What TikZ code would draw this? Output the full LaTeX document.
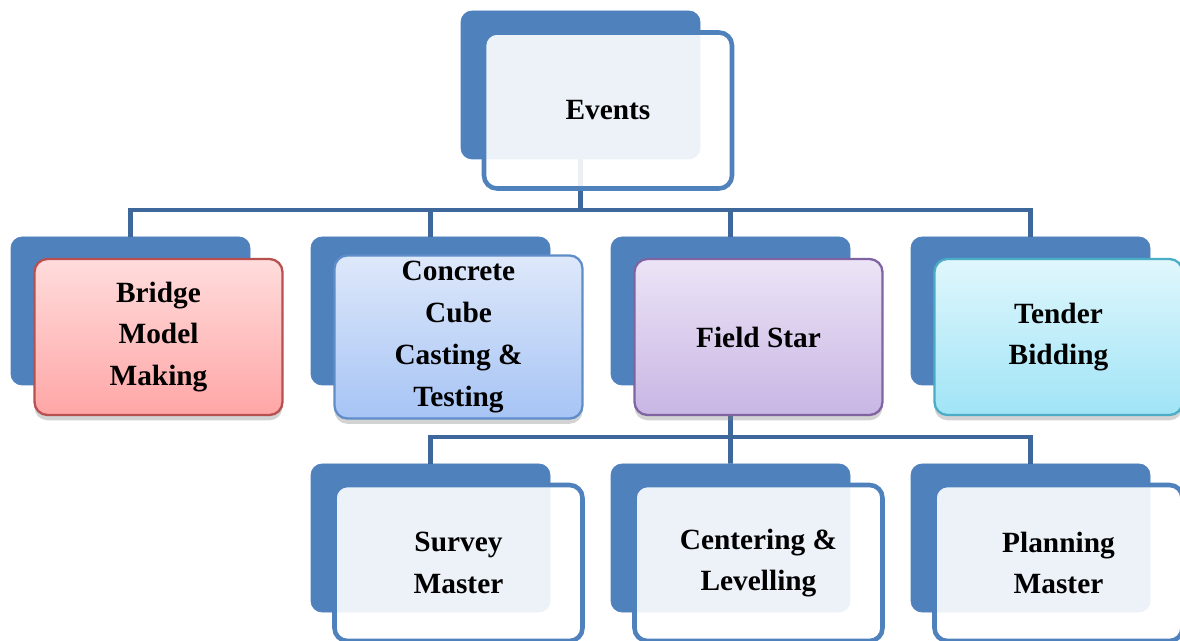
\documentclass[tikz,border=0pt]{standalone}
\usepackage{fontspec}
\setmainfont{Liberation Serif}
\usepackage{xcolor}
\usepackage{tikz}
\usetikzlibrary{shadows}
\definecolor{backblue}{RGB}{79,129,189}
\definecolor{linkblue}{RGB}{62,104,156}
\tikzstyle{back} = [rectangle, rounded corners=0.22cm, minimum width=4.78cm, minimum height=2.96cm, draw=backblue, fill=backblue]
\tikzstyle{plain} = [rectangle, rounded corners=0.26cm, minimum width=4.96cm, minimum height=3.12cm, align=center, line width=2.6pt, draw=backblue, fill=white, fill opacity=0.9, text opacity=1, font=\fontsize{16.7}{23.8}\selectfont\bfseries]
\tikzstyle{coloured} = [rectangle, rounded corners=0.26cm, minimum width=4.96cm, minimum height=3.12cm, align=center, line width=1.3pt, font=\fontsize{16.7}{23.8}\selectfont\bfseries, drop shadow={shadow xshift=0pt, shadow yshift=-3pt, opacity=0.35}]
\tikzstyle{pinkbox} = [coloured, draw={rgb,255:red,185;green,80;blue,80}, top color={rgb,255:red,255;green,220;blue,220}, bottom color={rgb,255:red,255;green,166;blue,166}]
\tikzstyle{bluebox} = [coloured, draw={rgb,255:red,96;green,140;blue,200}, top color={rgb,255:red,222;green,232;blue,250}, bottom color={rgb,255:red,166;green,196;blue,245}]
\tikzstyle{lilacbox} = [coloured, draw={rgb,255:red,128;green,100;blue,162}, top color={rgb,255:red,236;green,228;blue,246}, bottom color={rgb,255:red,200;green,182;blue,228}]
\tikzstyle{cyanbox} = [coloured, draw={rgb,255:red,75;green,172;blue,198}, top color={rgb,255:red,224;green,247;blue,252}, bottom color={rgb,255:red,160;green,228;blue,246}]
\tikzset{conn/.style={draw=linkblue, line width=2.8pt}}

\begin{document}
\begin{tikzpicture}[node distance=6cm]
	\useasboundingbox (0,0) rectangle (23.6,-12.82);
	
	\node (events_bg) [back] at (11.61,-1.70) {};
	\node (bridge_bg) [back] at (2.61,-6.22) {};
	\node (concrete_bg) [back, right of=bridge_bg] {};
	\node (field_bg) [back, right of=concrete_bg] {};
	\node (tender_bg) [back, right of=field_bg] {};
	\node (survey_bg) [back, below of=concrete_bg, yshift=1.46cm] {};
	\node (centering_bg) [back, right of=survey_bg] {};
	\node (planning_bg) [back, right of=centering_bg] {};
	
	\coordinate (bar1) at (11.61,-4.2);
	\coordinate (bar2) at (14.61,-8.74);
	
	\draw [conn] (events_bg.south) -- (bar1);
	\draw [conn] (bar1) -| (bridge_bg.north);
	\draw [conn] (bar1) -| (concrete_bg.north);
	\draw [conn] (bar1) -| (field_bg.north);
	\draw [conn] (bar1) -| (tender_bg.north);
	\draw [conn] (field_bg.south) -- (bar2);
	\draw [conn] (bar2) -| (survey_bg.north);
	\draw [conn] (bar2) -- (centering_bg.north);
	\draw [conn] (bar2) -| (planning_bg.north);
	
	\node (events) [plain, xshift=0.55cm, yshift=-0.51cm] at (events_bg) {Events};
	\node (bridge) [pinkbox, xshift=0.56cm, yshift=-0.52cm] at (bridge_bg) {Bridge\\Model\\Making};
	\node (concrete) [bluebox, xshift=0.56cm, yshift=-0.52cm] at (concrete_bg) {Concrete\\Cube\\Casting \&\\Testing};
	\node (field) [lilacbox, xshift=0.56cm, yshift=-0.52cm] at (field_bg) {Field Star};
	\node (tender) [cyanbox, xshift=0.56cm, yshift=-0.52cm] at (tender_bg) {Tender\\Bidding};
	\node (survey) [plain, xshift=0.56cm, yshift=-0.5cm] at (survey_bg) {Survey\\Master};
	\node (centering) [plain, xshift=0.56cm, yshift=-0.5cm] at (centering_bg) {Centering \&\\Levelling};
	\node (planning) [plain, xshift=0.56cm, yshift=-0.5cm] at (planning_bg) {Planning\\Master};
	
\end{tikzpicture}
\end{document}
